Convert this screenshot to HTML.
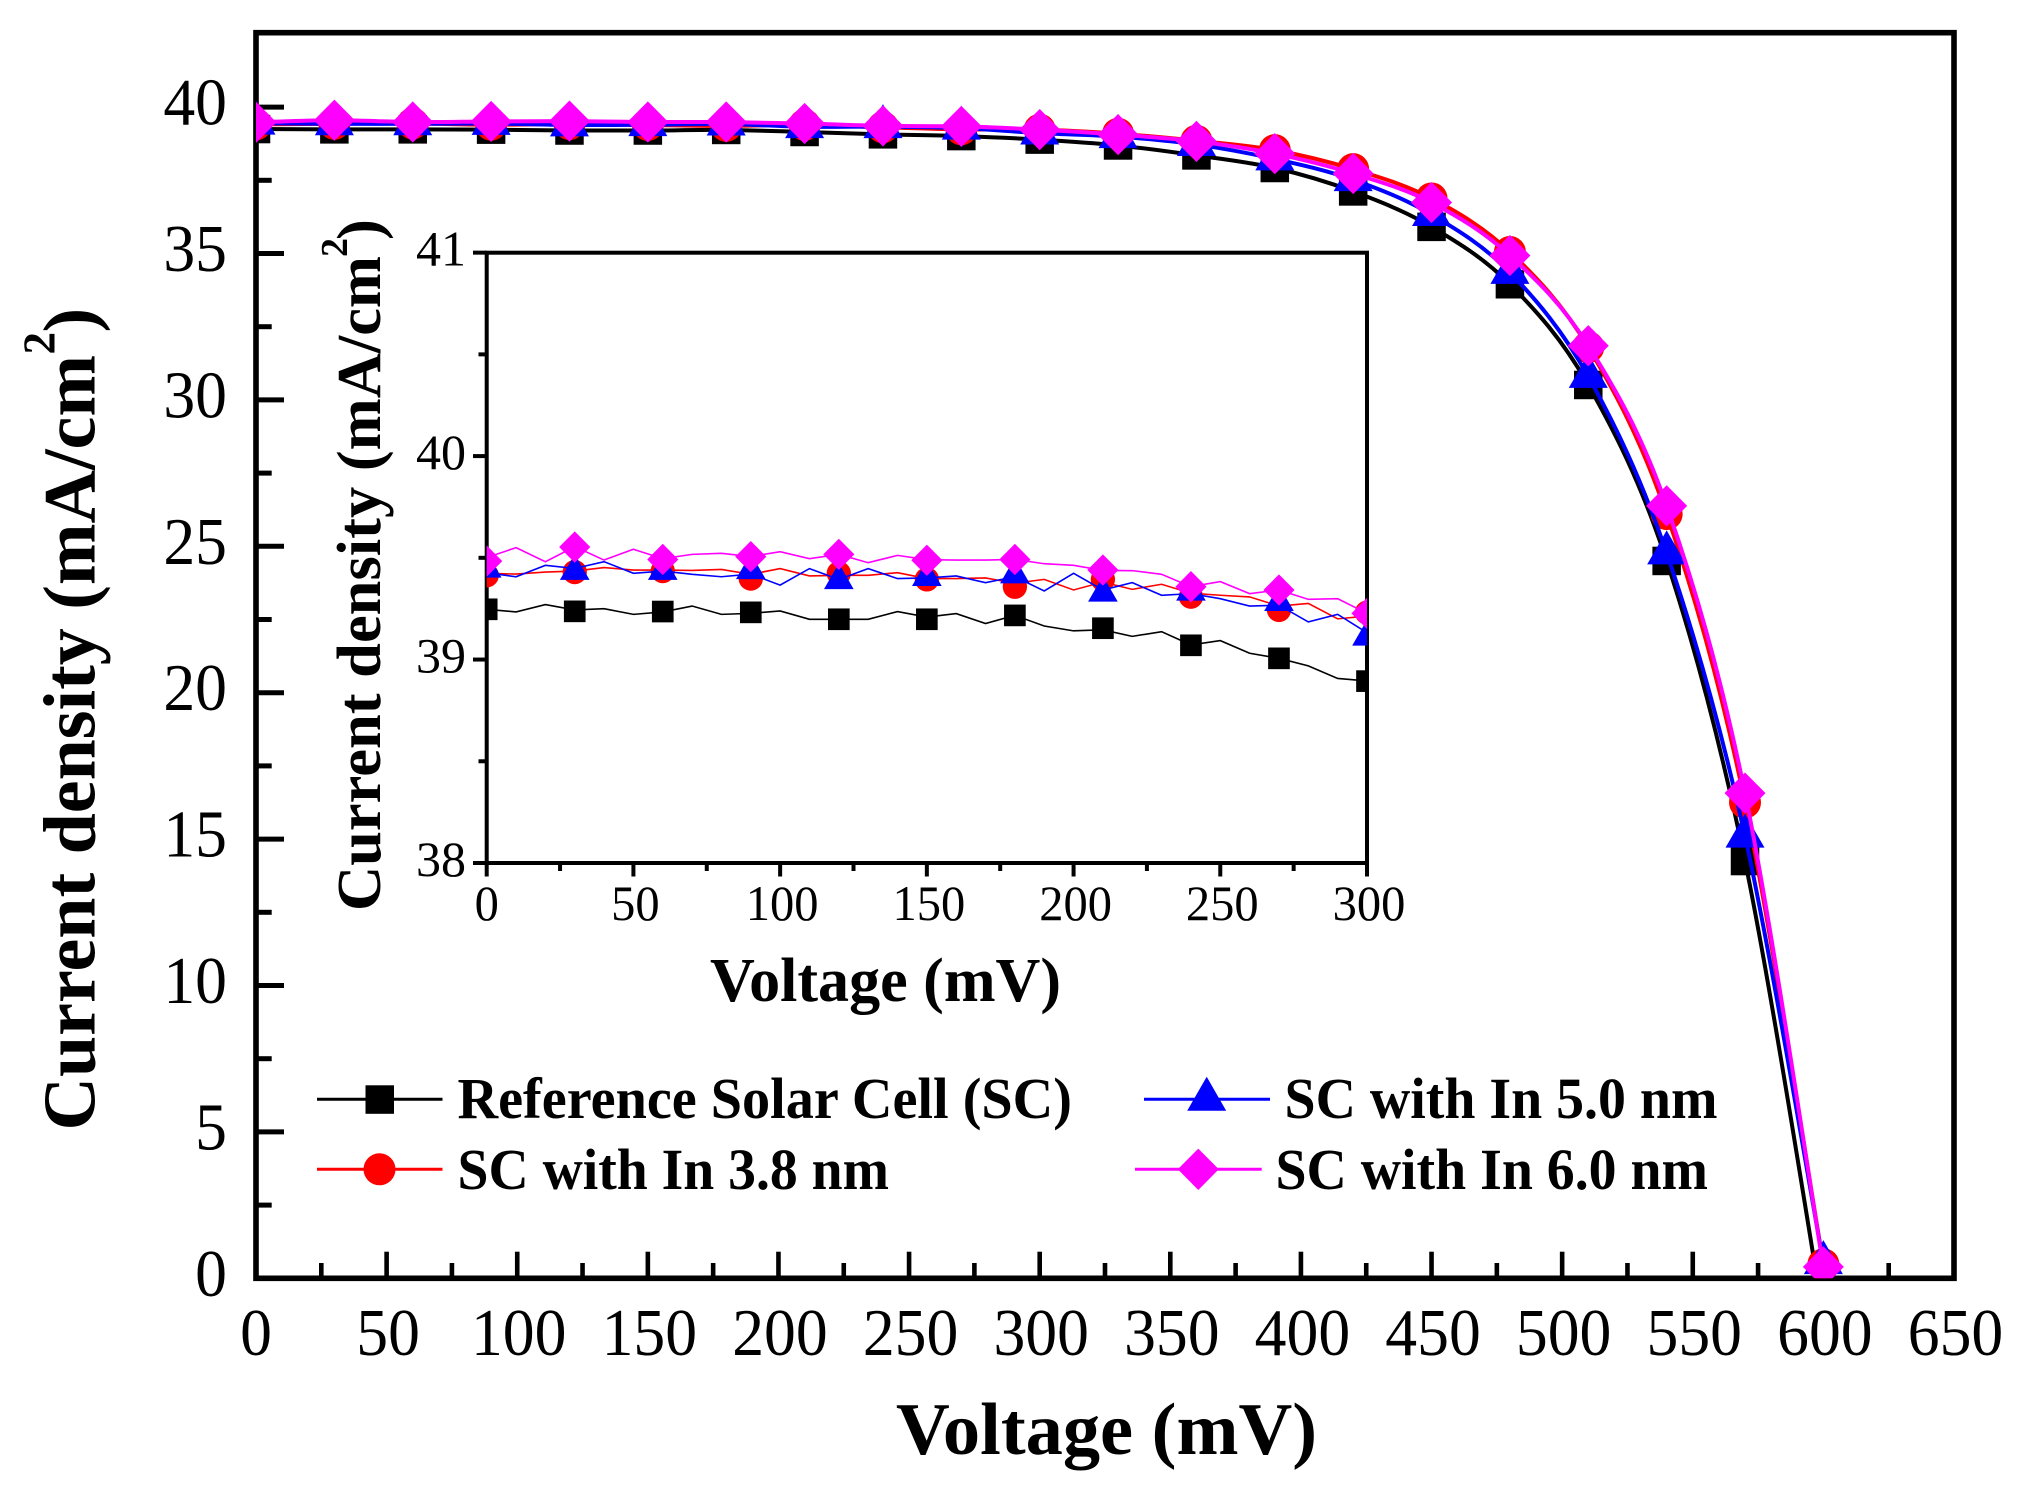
<!DOCTYPE html>
<html lang="en">
<head>
<meta charset="utf-8">
<title>Current density vs voltage</title>
<style>
html,body{margin:0;padding:0;background:#fff;}
svg{display:block;}
text{font-family:"Liberation Serif",serif;fill:#000;}
.b{font-weight:bold;}
</style>
</head>
<body>
<svg id="chart" xmlns="http://www.w3.org/2000/svg" width="2024" height="1489" viewBox="0 0 2024 1489">
  <rect x="0" y="0" width="2024" height="1489" fill="#fff"/>
  <defs>
    <clipPath id="mainClip"><rect x="256" y="32.7" width="1698" height="1245.6"/></clipPath>
    <clipPath id="insetClip"><rect x="486.7" y="252.7" width="880.3" height="610.3"/></clipPath>
  </defs>
  <rect x="256" y="32.7" width="1698" height="1245.6" fill="none" stroke="#000" stroke-width="5.6"/>
  <g id="mainTicks"></g>
  <g id="mainSeries" clip-path="url(#mainClip)"></g>
  <rect x="486.7" y="252.7" width="880.3" height="610.3" fill="none" stroke="#000" stroke-width="4"/>
  <g id="insetTicks"></g>
  <g id="insetSeries" clip-path="url(#insetClip)"></g>

  <text class="b" x="896" y="1454" font-size="74" textLength="421" lengthAdjust="spacingAndGlyphs">Voltage (mV)</text>
  <text class="b" transform="translate(94.3,1130.5) rotate(-90)" font-size="74">Current density (mA/cm<tspan x="776" y="-40" font-size="45">2</tspan><tspan x="798" y="0">)</tspan></text>
  <text class="b" x="710" y="1001" font-size="62" textLength="351" lengthAdjust="spacingAndGlyphs">Voltage (mV)</text>
  <text class="b" transform="translate(380,911) rotate(-90)" font-size="62.5">Current density (mA/cm<tspan x="654" y="-33" font-size="38">2</tspan><tspan x="671" y="0">)</tspan></text>

  <g>
    <g>
      <line x1="317" y1="1099.3" x2="442.5" y2="1099.3" stroke="#000" stroke-width="3"/>
      <rect x="365.5" y="1085.3" width="28.5" height="28.5" fill="#000"/>
      <text class="b" x="457.5" y="1118" font-size="58" textLength="614.5" lengthAdjust="spacingAndGlyphs">Reference Solar Cell (SC)</text>
    </g>
    <g>
      <line x1="317" y1="1169.3" x2="442.5" y2="1169.3" stroke="#f00" stroke-width="3"/>
      <circle cx="379.5" cy="1169.3" r="16" fill="#f00"/>
      <text class="b" x="457.5" y="1189" font-size="58" textLength="431.5" lengthAdjust="spacingAndGlyphs">SC with In 3.8 nm</text>
    </g>
    <g>
      <line x1="1144" y1="1099.3" x2="1270" y2="1099.3" stroke="#00f" stroke-width="3"/>
      <polygon points="1206.7,1076.7 1226.2,1110.7 1187.2,1110.7" fill="#00f"/>
      <text class="b" x="1284.5" y="1118" font-size="58" textLength="433" lengthAdjust="spacingAndGlyphs">SC with In 5.0 nm</text>
    </g>
    <g>
      <line x1="1135" y1="1169.3" x2="1261.7" y2="1169.3" stroke="#f0f" stroke-width="3"/>
      <polygon points="1198.3,1148.6 1218.8,1169.3 1198.3,1190 1177.8,1169.3" fill="#f0f"/>
      <text class="b" x="1275.5" y="1189" font-size="58" textLength="432.5" lengthAdjust="spacingAndGlyphs">SC with In 6.0 nm</text>
    </g>
  </g>
</svg>

<script>
// ---- Main plot data (mV, mA/cm2) ----
const mainVoltage = [0,30,60,90,120,150,180,210,240,270,300,330,360,390,420,450,480,510,540,570,600];
const mainReference = [39.25,39.24,39.24,39.23,39.20,39.20,39.22,39.15,39.07,39.01,38.89,38.69,38.35,37.92,37.12,35.91,33.95,30.51,24.50,14.25,-1.3];
const mainIn38 = [39.41,39.43,39.44,39.40,39.42,39.39,39.36,39.39,39.31,39.24,39.23,39.09,38.85,38.53,37.88,36.88,35.05,31.80,26.10,16.25,0.48];
const mainIn50 = [39.45,39.43,39.43,39.44,39.39,39.40,39.42,39.33,39.33,39.28,39.11,38.99,38.72,38.23,37.52,36.33,34.35,30.80,24.77,15.10,0.53];
const mainIn60 = [39.48,39.55,39.49,39.51,39.52,39.49,39.49,39.44,39.36,39.34,39.23,39.06,38.83,38.41,37.73,36.74,34.93,31.85,26.38,16.57,0.39];
const mainXTickValues = [0,50,100,150,200,250,300,350,400,450,500,550,600,650];
const mainXMinorValues = [25,75,125,175,225,275,325,375,425,475,525,575,625];
const mainYTickValues = [0,5,10,15,20,25,30,35,40];
const mainYMinorValues = [2.5,7.5,12.5,17.5,22.5,27.5,32.5,37.5];

// ---- Inset data ----
const insetLineVoltage = [0,10,20,30,40,50,60,70,80,90,100,110,120,130,140,150,160,170,180,190,200,210,220,230,240,250,260,270,280,290,300];
const insetLineReference = [39.247,39.234,39.27,39.244,39.25,39.222,39.234,39.263,39.222,39.227,39.239,39.198,39.198,39.198,39.236,39.209,39.226,39.177,39.217,39.165,39.141,39.146,39.114,39.137,39.072,39.093,39.031,39.006,38.969,38.907,38.895];
const insetLineIn38 = [39.424,39.42,39.43,39.435,39.452,39.44,39.44,39.438,39.443,39.419,39.447,39.411,39.414,39.414,39.427,39.398,39.398,39.401,39.375,39.394,39.342,39.381,39.345,39.37,39.326,39.316,39.308,39.263,39.276,39.2,39.214];
const insetLineIn50 = [39.427,39.407,39.463,39.448,39.481,39.424,39.435,39.419,39.407,39.42,39.366,39.447,39.394,39.447,39.398,39.401,39.411,39.378,39.407,39.337,39.424,39.342,39.378,39.316,39.324,39.299,39.263,39.267,39.185,39.222,39.132];
const insetLineIn60 = [39.501,39.55,39.481,39.555,39.489,39.542,39.496,39.517,39.522,39.506,39.53,39.496,39.517,39.476,39.512,39.491,39.489,39.489,39.492,39.471,39.463,39.438,39.437,39.419,39.358,39.383,39.324,39.342,39.296,39.299,39.227];
const insetMarkerVoltage = [0,30,60,90,120,150,180,210,240,270,300];
const insetMarkReference = [39.247,39.237,39.236,39.232,39.198,39.198,39.217,39.154,39.070,39.006,38.894];
const insetMarkIn38 = [39.414,39.430,39.435,39.398,39.424,39.394,39.358,39.394,39.309,39.244,39.231];
const insetMarkIn50 = [39.445,39.434,39.434,39.438,39.389,39.404,39.417,39.327,39.332,39.281,39.111];
const insetMarkIn60 = [39.484,39.553,39.492,39.506,39.517,39.488,39.492,39.440,39.358,39.342,39.227];
const insetXTickValues = [0,50,100,150,200,250,300];
const insetXMinorValues = [25,75,125,175,225,275];
const insetYTickValues = [38,39,40,41];
const insetYMinorValues = [38.5,39.5,40.5];

const NS = 'http://www.w3.org/2000/svg';
function mainX(v){ return 256 + v * (1698 / 650); }
function mainY(v){ return 1278.3 - v * 29.28; }
function insetX(v){ return 486.7 + v * (880.3 / 300); }
function insetY(v){ return 863 - (v - 38) * 203.45; }

function make(tag, parent, attrs){
  const el = document.createElementNS(NS, tag);
  for (const k in attrs) el.setAttribute(k, attrs[k]);
  parent.appendChild(el);
  return el;
}
function tickLine(parent, name, x1, y1, x2, y2, w){
  const el = make('line', parent, {x1:x1, y1:y1, x2:x2, y2:y2, stroke:'#000', 'stroke-width':w});
  
  
}
function tickText(parent, name, str, x, y, size, anchor, squeeze){
  const el = make('text', parent, {x:x, y:y, 'font-size':size, 'text-anchor':anchor,
    textLength: String(str).length * size * 0.5 * squeeze, lengthAdjust:'spacingAndGlyphs'});
  el.textContent = str;
  
  
}
function smoothPath(pts){
  let d = 'M' + pts[0][0].toFixed(2) + ' ' + pts[0][1].toFixed(2);
  for (let i = 0; i < pts.length - 1; i++){
    const p0 = pts[Math.max(i - 1, 0)], p1 = pts[i], p2 = pts[i + 1], p3 = pts[Math.min(i + 2, pts.length - 1)];
    const c1x = p1[0] + (p2[0] - p0[0]) / 6, c1y = p1[1] + (p2[1] - p0[1]) / 6;
    const c2x = p2[0] - (p3[0] - p1[0]) / 6, c2y = p2[1] - (p3[1] - p1[1]) / 6;
    d += 'C' + c1x.toFixed(2) + ' ' + c1y.toFixed(2) + ' ' + c2x.toFixed(2) + ' ' + c2y.toFixed(2) + ' ' + p2[0].toFixed(2) + ' ' + p2[1].toFixed(2);
  }
  return d;
}
function marker(parent, kind, color, x, y, k, name){
  let el;
  if (kind === 'square'){
    el = make('rect', parent, {x:x - 14.25 * k, y:y - 14.25 * k, width:28.5 * k, height:28.5 * k, fill:color});
  } else if (kind === 'circle'){
    el = make('circle', parent, {cx:x, cy:y, r:16 * k, fill:color});
  } else if (kind === 'triangle'){
    el = make('polygon', parent, {points:x + ',' + (y - 22.6 * k) + ' ' + (x + 19.5 * k) + ',' + (y + 11.4 * k) + ' ' + (x - 19.5 * k) + ',' + (y + 11.4 * k), fill:color});
  } else {
    el = make('polygon', parent, {points:x + ',' + (y - 20.6 * k) + ' ' + (x + 20.5 * k) + ',' + y + ' ' + x + ',' + (y + 20.6 * k) + ' ' + (x - 20.5 * k) + ',' + y, fill:color});
  }
  
  
}

// Ticks — main
const mainTicks = document.getElementById('mainTicks');
mainXTickValues.forEach(function(v){
  if (v > 0 && v < 650) tickLine(mainTicks, 'main-x-major-tick', mainX(v), 1278.3, mainX(v), 1251.7, 4.6);
  tickText(mainTicks, 'main-x-tick-label', v, mainX(v) + 1.5 * (v > 0 ? 1 : 0), 1355, 67, 'middle', 0.95);
});
mainXMinorValues.forEach(function(v){
  tickLine(mainTicks, 'main-x-minor-tick', mainX(v), 1278.3, mainX(v), 1263, 4.6);
});
mainYTickValues.forEach(function(v){
  if (v > 0) tickLine(mainTicks, 'main-y-major-tick', 256, mainY(v), 284, mainY(v), 5);
  tickText(mainTicks, 'main-y-tick-label', v, 227, mainY(v) + 17.5, 67, 'end', 0.95);
});
mainYMinorValues.forEach(function(v){
  tickLine(mainTicks, 'main-y-minor-tick', 256, mainY(v), 271.7, mainY(v), 5);
});

// Ticks — inset
const insetTicks = document.getElementById('insetTicks');
insetXTickValues.forEach(function(v){
  tickLine(insetTicks, 'inset-x-major-tick', insetX(v), 863, insetX(v), 876.5, 4);
  tickText(insetTicks, 'inset-x-tick-label', v, insetX(v) + 2 * (v > 0 ? 1 : 0), 920, 50, 'middle', 0.97);
});
insetXMinorValues.forEach(function(v){
  tickLine(insetTicks, 'inset-x-minor-tick', insetX(v), 863, insetX(v), 871, 4);
});
insetYTickValues.forEach(function(v){
  tickLine(insetTicks, 'inset-y-major-tick', 486.7, insetY(v), 473, insetY(v), 4);
  tickText(insetTicks, 'inset-y-tick-label', v, 466, insetY(v) + 13, 50, 'end', 1);
});
insetYMinorValues.forEach(function(v){
  tickLine(insetTicks, 'inset-y-minor-tick', 486.7, insetY(v), 478.5, insetY(v), 4);
});

// Series — main
const mainSeriesGroup = document.getElementById('mainSeries');
[
  {key:'reference', color:'#000', kind:'square', vals:mainReference},
  {key:'in-3-8', color:'#f00', kind:'circle', vals:mainIn38},
  {key:'in-5-0', color:'#00f', kind:'triangle', vals:mainIn50},
  {key:'in-6-0', color:'#f0f', kind:'diamond', vals:mainIn60}
].forEach(function(s){
  const pts = mainVoltage.map(function(v, i){ return [mainX(v), mainY(s.vals[i])]; });
  const path = make('path', mainSeriesGroup, {d:smoothPath(pts), fill:'none', stroke:s.color, 'stroke-width':4, 'stroke-linejoin':'round'});
  
  
  pts.forEach(function(p){
    marker(mainSeriesGroup, s.kind, s.color, p[0], p[1], 1, 'main-point-' + s.key);
  });
});

// Series — inset
const insetSeriesGroup = document.getElementById('insetSeries');
[
  {key:'reference', color:'#000', kind:'square', line:insetLineReference, marks:insetMarkReference},
  {key:'in-3-8', color:'#f00', kind:'circle', line:insetLineIn38, marks:insetMarkIn38},
  {key:'in-5-0', color:'#00f', kind:'triangle', line:insetLineIn50, marks:insetMarkIn50},
  {key:'in-6-0', color:'#f0f', kind:'diamond', line:insetLineIn60, marks:insetMarkIn60}
].forEach(function(s){
  const linePts = insetLineVoltage.map(function(v, i){ return insetX(v).toFixed(2) + ',' + insetY(s.line[i]).toFixed(2); }).join(' ');
  const poly = make('polyline', insetSeriesGroup, {points:linePts, fill:'none', stroke:s.color, 'stroke-width':1.6});
  
  
  insetMarkerVoltage.forEach(function(v, i){
    marker(insetSeriesGroup, s.kind, s.color, insetX(v), insetY(s.marks[i]), 0.76, 'inset-point-' + s.key);
  });
});
</script>
</body>
</html>
